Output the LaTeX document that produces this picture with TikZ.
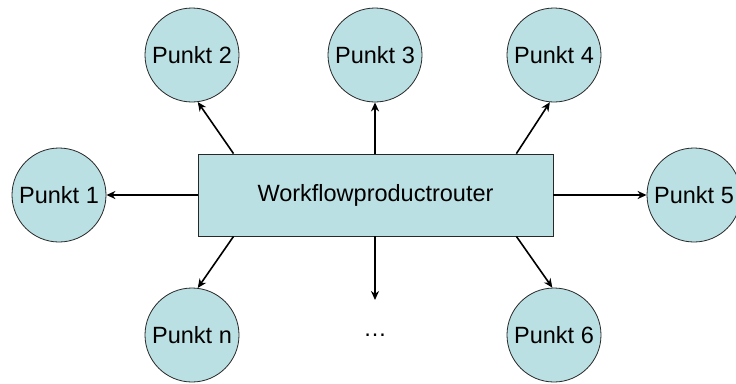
\documentclass[tikz,border=0pt]{standalone}
\usepackage{fontspec}
\setmainfont{Liberation Sans}
\usetikzlibrary{arrows.meta,calc}
\definecolor{boxfill}{RGB}{187,224,227}
\definecolor{edge}{RGB}{40,40,40}
\tikzset{
  punkt/.style={circle, draw=edge, line width=0.8pt, fill=boxfill,
    minimum size=94pt, inner sep=0pt, font=\fontsize{23.5}{26}\selectfont},
  router/.style={rectangle, draw=edge, line width=0.8pt, fill=boxfill,
    minimum width=355pt, minimum height=82pt, inner sep=0pt,
    font=\fontsize{23.5}{26}\selectfont},
  link/.style={draw=black, line width=1.6pt, -{Stealth[length=9pt,width=8pt]}},
}
\begin{document}
\begin{tikzpicture}[x=1pt,y=-1pt]
  \useasboundingbox (0,0) rectangle (736,383);
  % central router
  \node[router] (wf) at (375.5,195) {Workflowproductrouter};
  % targets
  \node[punkt] (p1) at (59,195)  {Punkt 1};
  \node[punkt] (p2) at (192,55)  {Punkt 2};
  \node[punkt] (p3) at (375,55)  {Punkt 3};
  \node[punkt] (p4) at (554,55)  {Punkt 4};
  \node[punkt] (p5) at (694,195) {Punkt 5};
  \node[punkt] (p6) at (554,335) {Punkt 6};
  \node[punkt] (pn) at (192,335) {Punkt n};
  \node[font=\fontsize{23.5}{26}\selectfont] (dots) at (375,335) {\ldots};
  \coordinate (down) at (375,300);
  % connectors
  \draw[link] (wf.west |- p1.east) -- (p1.east);
  \draw[link] ($(wf.north west)!0.101!(wf.north east)$) -- (p2.-83);
  \draw[link] (wf.north -| p3.south) -- (p3.south);
  \draw[link] ($(wf.north west)!0.896!(wf.north east)$) -- (p4.-95);
  \draw[link] (wf.east |- p5.west) -- (p5.west);
  \draw[link] ($(wf.south west)!0.896!(wf.south east)$) -- (p6.92);
  \draw[link] ($(wf.south west)!0.101!(wf.south east)$) -- (pn.83);
  \draw[link] (wf.south -| down) -- (down);
\end{tikzpicture}
\end{document}
